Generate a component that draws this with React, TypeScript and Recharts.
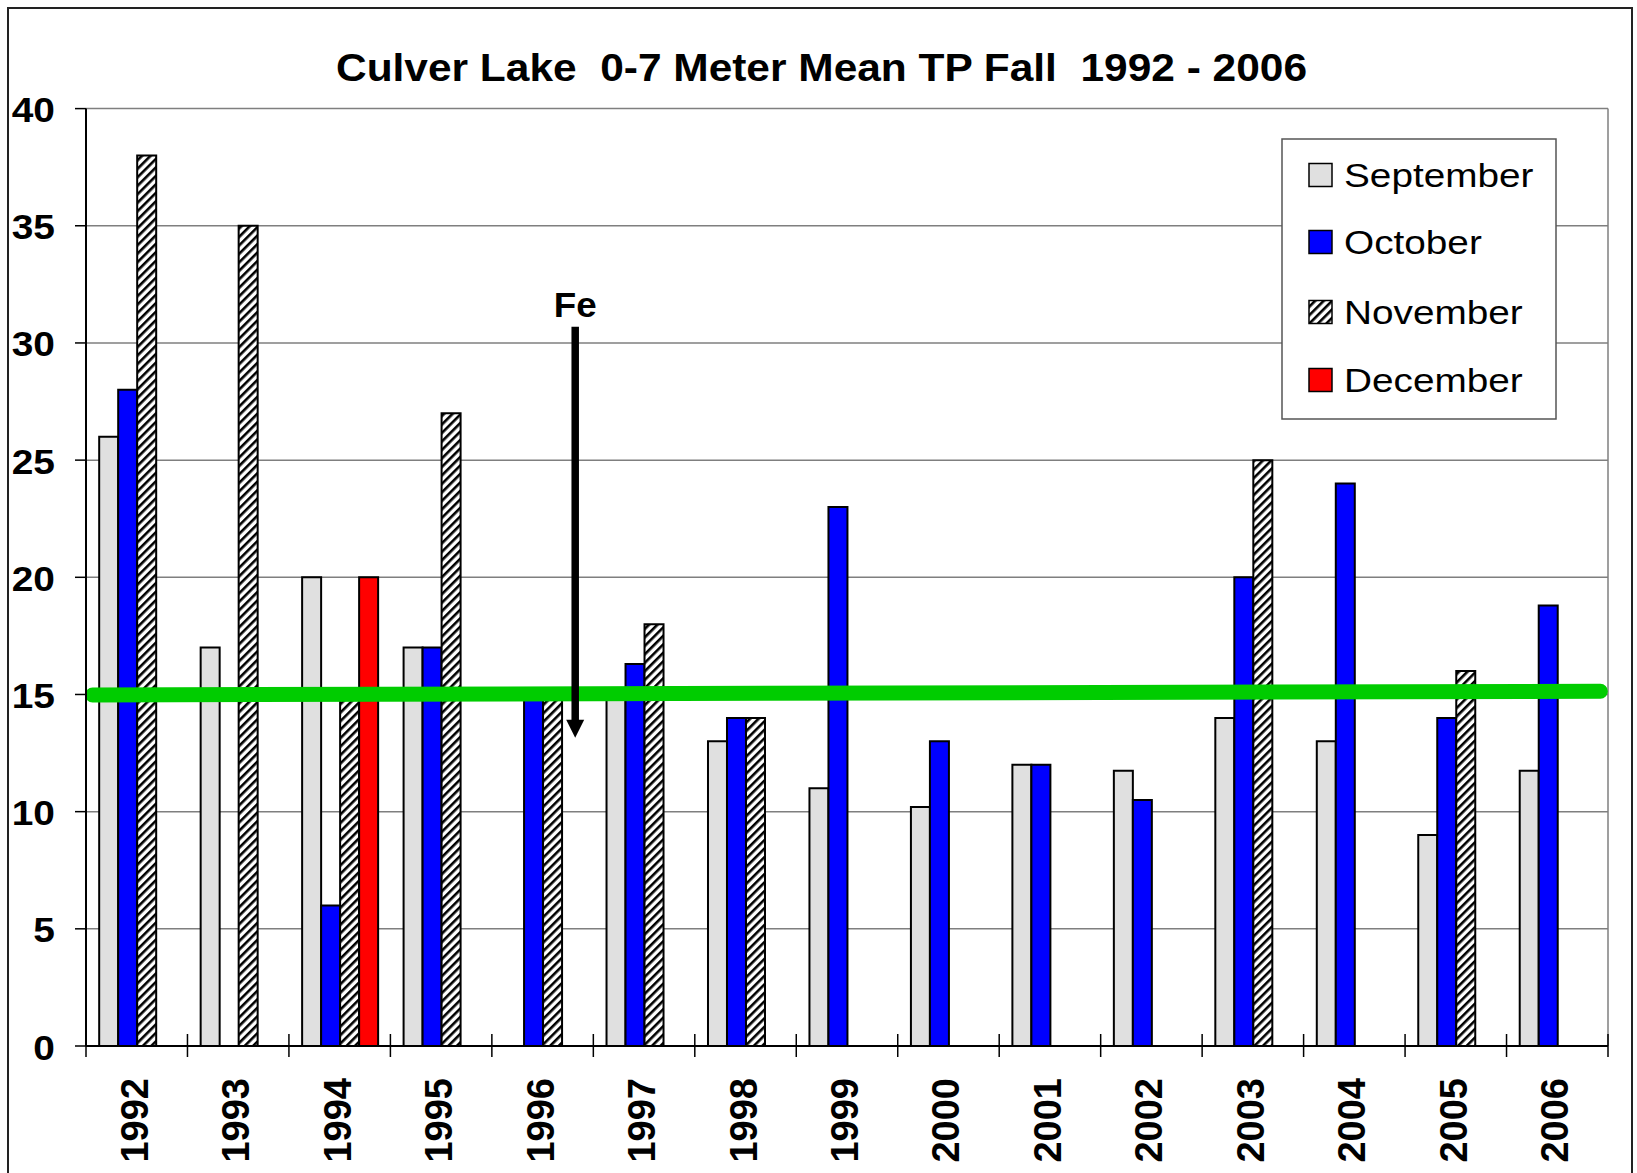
import React from 'react';
import { BarChart, Bar, XAxis, YAxis, CartesianGrid, ReferenceLine, Legend } from 'recharts';

const years = ['1992', '1993', '1994', '1995', '1996', '1997', '1998', '1999', '2000', '2001', '2002', '2003', '2004', '2005', '2006'];
const september = [26, 17, 20, 17, null, 15, 13, 11, 10.2, 12, 11.75, 14, 13, 9, 11.75];
const october = [28, null, 6, 17, 15, 16.3, 14, 23, 13, 12, 10.5, 20, 24, 14, 18.8];
const november = [38, 35, 15, 27, 15, 18, 14, null, null, null, null, 25, null, 16, null];
const december = [null, null, 20, null, null, null, null, null, null, null, null, null, null, null, null];
const yTicks = [0, 5, 10, 15, 20, 25, 30, 35, 40];

// Overlay positions on a hidden 0..14 axis spanning the plot width
const overlayDomain = [0, 14];
const targetLine = [
  { x: 0.06, y: 14.98 },
  { x: 13.93, y: 15.14 },
];
const feArrow = [
  { x: 4.5, y: 30.69 },
  { x: 4.5, y: 13.15 },
];
const feLabel = 'Fe';
const title = 'Culver Lake  0-7 Meter Mean TP Fall  1992 - 2006';

const seriesInfo = [
  { key: 'September', fill: '#e0e0e0' },
  { key: 'October', fill: '#0000ff' },
  { key: 'November', fill: 'url(#hatch)' },
  { key: 'December', fill: '#ff0000' },
];

const data = years.map((y, i) => ({
  year: y,
  September: september[i],
  October: october[i],
  November: november[i],
  December: december[i],
}));

const FONT = 'Liberation Sans, Arial, Helvetica, sans-serif';
const X_TICK_MARGIN = 32;

const XTick = (props: any) => {
  const { x, y, payload, index, visibleTicksCount, width } = props;
  const half = payload && payload.offset ? payload.offset : (width && visibleTicksCount ? width / visibleTicksCount / 2 : 0);
  const axisY = y - X_TICK_MARGIN;
  return (
    <g>
      <line x1={x - half} x2={x - half} y1={axisY - 12} y2={axisY + 11} stroke="#000" strokeWidth={1.5} />
      {index === visibleTicksCount - 1 && (
        <line x1={x + half} x2={x + half} y1={axisY - 12} y2={axisY + 11} stroke="#000" strokeWidth={1.5} />
      )}
      <text
        transform={`translate(${x + 11}, ${y}) rotate(-90)`}
        textAnchor="end"
        fontSize={38}
        fontWeight="bold"
        fontFamily={FONT}
        fill="#000"
      >
        {payload.value}
      </text>
    </g>
  );
};

const YTick = (props: any) => {
  const { x, y, payload } = props;
  return (
    <text
      transform={`translate(${x}, ${y + 13.5}) scale(1.08, 1)`}
      textAnchor="end"
      fontSize={36}
      fontWeight="bold"
      fontFamily={FONT}
      fill="#000"
    >
      {payload.value}
    </text>
  );
};

const GreenShape = (props: any) => {
  const { x1, y1, x2, y2 } = props;
  return <line x1={x1} y1={y1} x2={x2} y2={y2} stroke="#00cc00" strokeWidth={15} strokeLinecap="round" />;
};

const ArrowShape = (props: any) => {
  const { x1, y1, x2, y2 } = props;
  const head = 18;
  return (
    <g>
      <line x1={x1} y1={y1} x2={x2} y2={y2 - head + 1} stroke="#000" strokeWidth={7.5} />
      <polygon points={`${x2 - 9},${y2 - head} ${x2 + 9},${y2 - head} ${x2},${y2}`} fill="#000" />
      <text
        transform={`translate(${x1}, ${y1 - 10}) scale(1.05, 1)`}
        textAnchor="middle"
        fontSize={35}
        fontWeight="bold"
        fontFamily={FONT}
        fill="#000"
      >
        {feLabel}
      </text>
    </g>
  );
};

const LegendBox = () => {
  const rows = [36, 103, 173, 241];
  return (
    <svg width={276} height={282} style={{ display: 'block' }}>
      <defs>
        <pattern id="hatchL" patternUnits="userSpaceOnUse" width="6" height="6" patternTransform="rotate(45)">
          <rect width="6" height="6" fill="#fff" />
          <rect x="0" y="0" width="2.6" height="6" fill="#000" />
        </pattern>
      </defs>
      <rect x={1} y={1} width={274} height={280} fill="#fff" stroke="#555" strokeWidth={1.5} />
      {seriesInfo.map((s, i) => (
        <g key={s.key}>
          <rect
            x={28}
            y={rows[i] - 11.5 + 1}
            width={23}
            height={23}
            fill={s.key === 'November' ? 'url(#hatchL)' : s.fill}
            stroke="#000"
            strokeWidth={1.5}
          />
          <text
            transform={`translate(63, ${rows[i] + 13}) scale(1.14, 1)`}
            fontSize={34}
            fontFamily={FONT}
            fill="#000"
          >
            {s.key}
          </text>
        </g>
      ))}
    </svg>
  );
};

export default function App() {
  return (
    <div style={{ position: 'fixed', left: 0, top: 0, width: 1637, height: 1173, overflow: 'hidden', background: '#fff' }}>
      <div style={{ position: 'absolute', left: 8, top: 8 }}>
        <BarChart
          width={1621}
          height={1157}
          data={data}
          margin={{ top: 100.6, right: 21, left: 0, bottom: 0 }}
          barCategoryGap="13%"
          barGap={0}
        >
          <defs>
            <pattern id="hatch" patternUnits="userSpaceOnUse" width="6" height="6" patternTransform="rotate(45)">
              <rect width="6" height="6" fill="#fff" />
              <rect x="0" y="0" width="2.6" height="6" fill="#000" />
            </pattern>
          </defs>
          <CartesianGrid vertical={false} stroke="#7f7f7f" strokeWidth={1.5} />
          <XAxis
            dataKey="year"
            height={119}
            axisLine={{ stroke: '#000', strokeWidth: 2 }}
            tickLine={false}
            tickSize={0}
            tickMargin={X_TICK_MARGIN}
            interval={0}
            tick={<XTick />}
          />
          <XAxis xAxisId="num" type="number" domain={overlayDomain} hide allowDataOverflow />
          <YAxis
            domain={[0, 40]}
            ticks={yTicks}
            interval={0}
            width={78}
            axisLine={{ stroke: '#000', strokeWidth: 2 }}
            tickLine={{ stroke: '#000', strokeWidth: 1.5 }}
            tickSize={11}
            tickMargin={20}
            tick={<YTick />}
          />
          <Legend
            layout="vertical"
            align="center"
            verticalAlign="middle"
            content={<LegendBox />}
            wrapperStyle={{ left: 1273, top: 130, width: 276, height: 282, margin: 0 }}
          />
          {seriesInfo.map((s) => (
            <Bar key={s.key} dataKey={s.key} fill={s.fill} stroke="#000" strokeWidth={2} isAnimationActive={false} />
          ))}
          <ReferenceLine xAxisId="num" x={overlayDomain[1]} stroke="#7f7f7f" strokeWidth={1.5} />
          <ReferenceLine xAxisId="num" segment={targetLine} shape={GreenShape} />
          <ReferenceLine xAxisId="num" segment={feArrow} shape={ArrowShape} />
        </BarChart>
      </div>
      <svg width={1637} height={1173} style={{ position: 'absolute', left: 0, top: 0, pointerEvents: 'none' }}>
        <path d="M8 1180 L8 8 L1632 8 L1632 1180" fill="none" stroke="#222" strokeWidth={2} />
        <text
          x={821.5}
          y={81}
          textAnchor="middle"
          fontSize={38}
          fontWeight="bold"
          fontFamily={FONT}
          textLength={971}
          lengthAdjust="spacingAndGlyphs"
          xmlSpace="preserve"
          style={{ whiteSpace: 'pre' }}
          fill="#000"
        >
          {title}
        </text>
      </svg>
    </div>
  );
}
